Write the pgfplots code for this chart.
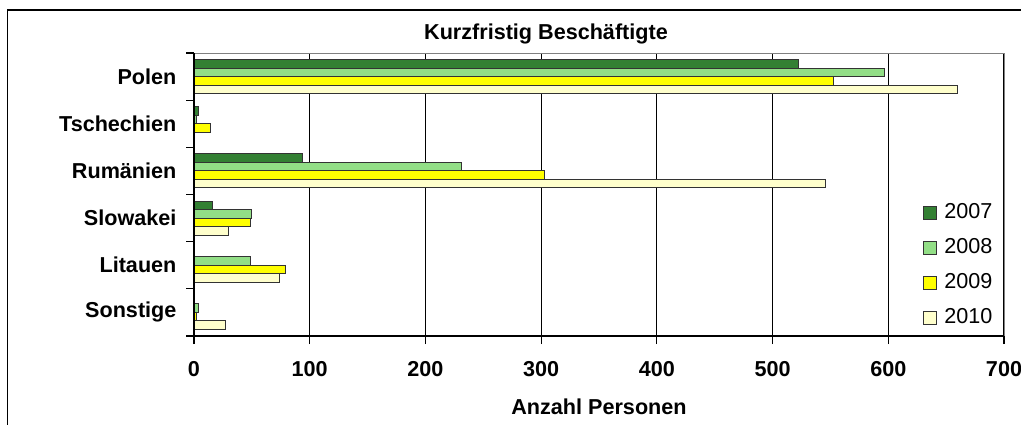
\documentclass[border=0pt]{standalone}
\usepackage{pgfplots}
\pgfplotsset{compat=1.18}
\usepackage{fontspec}
\setmainfont{Liberation Sans}
\definecolor{c07}{RGB}{51,128,51}
\definecolor{c08}{RGB}{146,222,134}
\definecolor{c09}{RGB}{255,255,0}
\definecolor{c10}{RGB}{255,255,204}
\begin{document}
\fontsize{10.8}{13}\selectfont
\begin{tikzpicture}
\path[use as bounding box] (0,0) rectangle (510.5pt,-212pt);
\draw[line width=0.75pt] (3.75pt,-230pt) -- (3.75pt,-5pt) -- (530pt,-5pt);
\node[font=\bfseries] at (273pt,-16.8pt) {Kurzfristig Beschäftigte};
\begin{axis}[
  at={(97pt,-168pt)}, anchor=south west,
  scale only axis, width=405pt, height=141.5pt,
  xbar, bar width=0.18,
  xmin=0, xmax=700, ymin=-0.5, ymax=5.5,
  xtick={0,100,...,700},
  ytick={-0.5,0.5,1.5,2.5,3.5,4.5,5.5},
  yticklabels={{},Sonstige,Litauen,Slowakei,Rumänien,Tschechien,Polen},
  yticklabel style={yshift=-11.79pt, font=\bfseries, xshift=-1pt},
  xticklabel style={font=\bfseries, yshift=-5pt},
  /pgf/number format/assume math mode=true,
  tick align=outside, tick pos=left, major tick length=4pt,
  tick style={black, line width=0.6pt},
  xmajorgrids, grid style={black, line width=0.6pt},
  axis line style={draw=none},
  xlabel={Anzahl Personen},
  xlabel style={font=\bfseries, at={(axis description cs:0.5,0)}, anchor=center, yshift=-35.2pt},
  legend style={draw=none, fill=none, at={(axis description cs:0.9,0.48)}, anchor=north west,
    row sep=5.5pt, inner sep=0pt, font=\fontsize{10.8}{13}\selectfont,
    nodes={inner ysep=1pt, inner xsep=3.5pt, text height=8pt, text depth=2pt}},
  legend cell align=left,
]
\addplot[fill=c07, draw=black!80, line width=0.5pt, bar shift=0.27,
  legend image code/.code={\draw[fill=c07, draw=black!80, line width=0.5pt] (0pt,-3.25pt) rectangle (6.5pt,3.25pt);}]
  coordinates {(522,5) (4,4) (94,3) (16,2) (0,1) (0,0)};
\addplot[fill=c08, draw=black!80, line width=0.5pt, bar shift=0.09,
  legend image code/.code={\draw[fill=c08, draw=black!80, line width=0.5pt] (0pt,-3.25pt) rectangle (6.5pt,3.25pt);}]
  coordinates {(597,5) (2,4) (231,3) (50,2) (49,1) (4,0)};
\addplot[fill=c09, draw=black!80, line width=0.5pt, bar shift=-0.09,
  legend image code/.code={\draw[fill=c09, draw=black!80, line width=0.5pt] (0pt,-3.25pt) rectangle (6.5pt,3.25pt);}]
  coordinates {(553,5) (14,4) (303,3) (49,2) (79,1) (2,0)};
\addplot[fill=c10, draw=black!80, line width=0.5pt, bar shift=-0.27,
  legend image code/.code={\draw[fill=c10, draw=black!80, line width=0.5pt] (0pt,-3.25pt) rectangle (6.5pt,3.25pt);}]
  coordinates {(660,5) (0,4) (546,3) (30,2) (74,1) (27,0)};
\legend{2007,2008,2009,2010}
\end{axis}
\draw[gray, line width=0.5pt] (97pt,-26.5pt) -- (502pt,-26.5pt) -- (502pt,-168pt);
\draw[black, line width=0.65pt] (97pt,-26.5pt) -- (97pt,-168pt) -- (502pt,-168pt);
\end{tikzpicture}
\end{document}
